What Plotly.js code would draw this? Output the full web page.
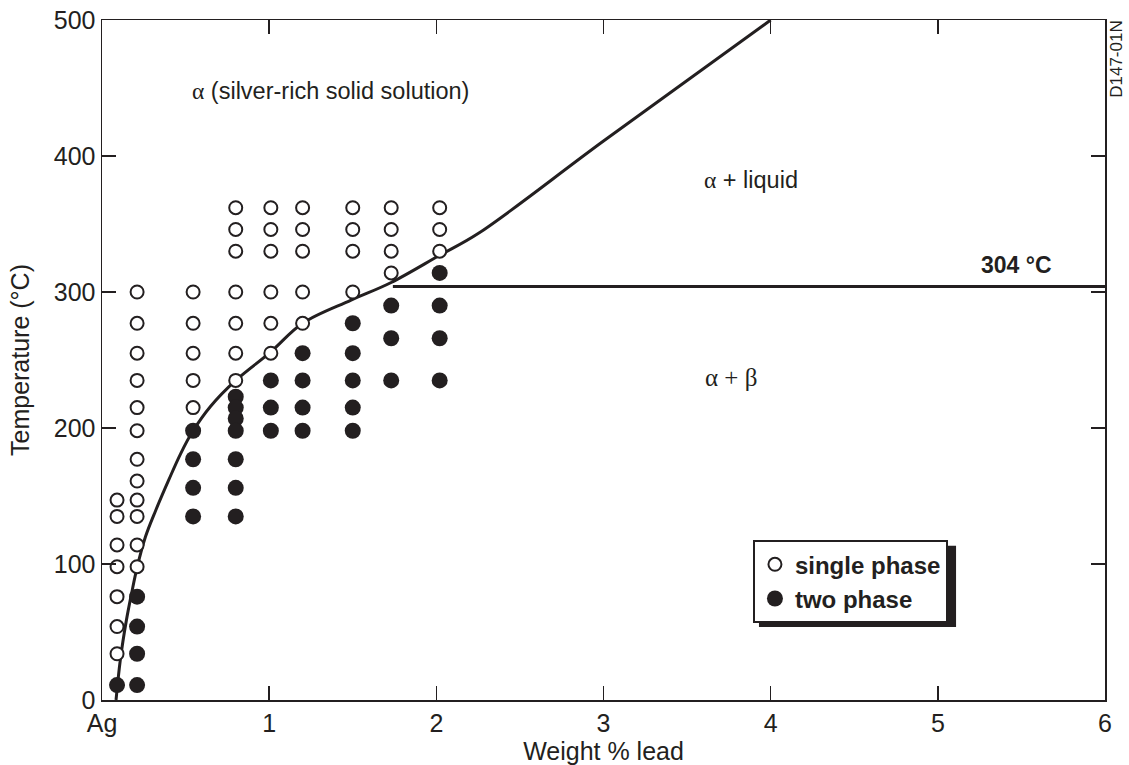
<!DOCTYPE html>
<html>
<head>
<meta charset="utf-8">
<script src="https://cdn.plot.ly/plotly-3.0.1.min.js"></script>
<style>
  html, body { margin: 0; padding: 0; background: #ffffff; }
  #chart { width: 1129px; height: 765px; }
</style>
</head>
<body>
<div id="chart"></div>
<script>
// Ag–Pb phase diagram, silver-rich corner: quench observations and phase boundaries.

// Compositions (wt % Pb) and temperatures (°C) of specimens found single phase
const singlePhaseWt = [
  0.09, 0.09, 0.09, 0.09, 0.09, 0.09, 0.09,
  0.21, 0.21, 0.21, 0.21, 0.21, 0.21, 0.21, 0.21, 0.21, 0.21, 0.21, 0.21,
  0.545, 0.545, 0.545, 0.545, 0.545,
  0.80, 0.80, 0.80, 0.80, 0.80, 0.80, 0.80,
  1.01, 1.01, 1.01, 1.01, 1.01, 1.01,
  1.20, 1.20, 1.20, 1.20, 1.20,
  1.50, 1.50, 1.50, 1.50,
  1.73, 1.73, 1.73, 1.73,
  2.02, 2.02, 2.02
];
const singlePhaseTemp = [
  147, 135, 114, 98, 76, 54, 34,
  300, 277, 255, 235, 215, 198, 177, 161, 147, 135, 114, 98,
  300, 277, 255, 235, 215,
  362, 346, 330, 300, 277, 255, 235,
  362, 346, 330, 300, 277, 255,
  362, 346, 330, 300, 277,
  362, 346, 330, 300,
  362, 346, 330, 314,
  362, 346, 330
];

// Specimens found two phase
const twoPhaseWt = [
  0.09,
  0.21, 0.21, 0.21, 0.21,
  0.545, 0.545, 0.545, 0.545,
  0.80, 0.80, 0.80, 0.80, 0.80, 0.80, 0.80,
  1.01, 1.01, 1.01,
  1.20, 1.20, 1.20, 1.20,
  1.50, 1.50, 1.50, 1.50, 1.50,
  1.73, 1.73, 1.73,
  2.02, 2.02, 2.02, 2.02
];
const twoPhaseTemp = [
  11,
  76, 54, 34, 11,
  198, 177, 156, 135,
  223, 215, 207, 198, 177, 156, 135,
  235, 215, 198,
  255, 235, 215, 198,
  277, 255, 235, 215, 198,
  290, 266, 235,
  314, 290, 266, 235
];

// Solvus running into the alpha solidus
const boundaryWt = [0.084, 0.11, 0.145, 0.178, 0.211, 0.26, 0.32, 0.40, 0.47, 0.54, 0.65, 0.80, 1.01, 1.20, 1.49, 1.73, 2.02, 2.25, 3.0, 4.0];
const boundaryTemp = [0, 30, 58, 79, 98, 120, 139, 162, 181, 197, 216, 235, 256, 277, 294, 307, 327, 343, 411, 500];

// Eutectic isotherm
const eutecticTemp = 304;
const eutecticWt = [1.74, 6];

// Axis ticks
const xTickVals = [0, 1, 2, 3, 4, 5, 6];
const xTickText = ['Ag', '1', '2', '3', '4', '5', '6'];
const yTickVals = [0, 100, 200, 300, 400, 500];

const ink = '#231f20';
const textFont = 'Liberation Sans, Arial, Helvetica, sans-serif';
const greek = 'Liberation Serif, Times New Roman, serif';
const g = s => '<span style="font-family:' + greek + '">' + s + '</span>';

const traces = [
  {
    x: boundaryWt, y: boundaryTemp, type: 'scatter', mode: 'lines',
    line: { color: ink, width: 3, shape: 'spline', smoothing: 1 },
    showlegend: false, hoverinfo: 'skip'
  },
  {
    x: eutecticWt, y: eutecticWt.map(() => eutecticTemp), type: 'scatter', mode: 'lines',
    line: { color: ink, width: 3 },
    showlegend: false, hoverinfo: 'skip'
  },
  {
    x: singlePhaseWt, y: singlePhaseTemp, type: 'scatter', mode: 'markers',
    name: 'single phase',
    marker: { symbol: 'circle', size: 13, color: '#ffffff', line: { color: ink, width: 2 } }
  },
  {
    x: twoPhaseWt, y: twoPhaseTemp, type: 'scatter', mode: 'markers',
    name: 'two phase',
    marker: { symbol: 'circle', size: 16, color: ink, line: { width: 0 } }
  }
];

const axisCommon = {
  showgrid: false, zeroline: false,
  showline: true, linecolor: ink, linewidth: 1.5, mirror: 'ticks',
  ticks: 'inside', ticklen: 14, tickwidth: 1.5, tickcolor: ink,
  tickfont: { family: textFont, size: 25, color: ink }
};

const layout = {
  width: 1129, height: 765,
  margin: { l: 102, r: 24, t: 20, b: 65 },
  paper_bgcolor: '#ffffff', plot_bgcolor: '#ffffff',
  font: { family: textFont, color: ink },
  xaxis: Object.assign({}, axisCommon, {
    range: [0, 6], tickmode: 'array', tickvals: xTickVals, ticktext: xTickText,
    title: { text: 'Weight % lead', font: { family: textFont, size: 25, color: ink }, standoff: 0 }
  }),
  yaxis: Object.assign({}, axisCommon, {
    range: [0, 500], tickmode: 'array', tickvals: yTickVals,
    title: { text: 'Temperature (°C)', font: { family: textFont, size: 25, color: ink }, standoff: 17 }
  }),
  showlegend: true,
  legend: {
    x: 0.649, y: 0.235, xanchor: 'left', yanchor: 'top',
    bgcolor: '#ffffff', bordercolor: ink, borderwidth: 2,
    font: { family: textFont, size: 24, color: ink, weight: 'bold' },
    tracegroupgap: 0, itemsizing: 'trace'
  },
  shapes: [
    // drop shadow behind the legend box
    { type: 'rect', xref: 'paper', yref: 'paper', layer: 'above',
      x0: 0.655, x1: 0.8515, y0: 0.1072, y1: 0.227,
      fillcolor: ink, line: { width: 0 } }
  ],
  annotations: [
    { x: 1.364, y: 448, xref: 'x', yref: 'y', showarrow: false,
      text: g('α') + ' (silver-rich solid solution)', font: { family: textFont, size: 23.5, color: ink } },
    { x: 3.88, y: 382, xref: 'x', yref: 'y', showarrow: false,
      text: g('α') + ' + liquid', font: { family: textFont, size: 23.5, color: ink } },
    { x: 3.76, y: 237, xref: 'x', yref: 'y', showarrow: false,
      text: g('α + β'), font: { family: greek, size: 25, color: ink } },
    { x: 5.47, y: 320, xref: 'x', yref: 'y', showarrow: false,
      text: '<b>' + eutecticTemp + ' °C</b>', font: { family: textFont, size: 23, color: ink } },
    { x: 1.012, y: 0.943, xref: 'paper', yref: 'paper', xanchor: 'center', yanchor: 'middle',
      showarrow: false, textangle: -90,
      text: 'D147-01N', font: { family: textFont, size: 17, color: ink } }
  ]
};

Plotly.newPlot('chart', traces, layout, { displayModeBar: false, staticPlot: true });
</script>
</body>
</html>
